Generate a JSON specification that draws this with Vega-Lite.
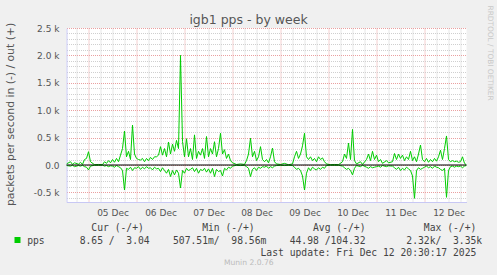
{
  "$schema": "https://vega.github.io/schema/vega-lite/v6.json",
  "width": 400,
  "height": 174,
  "autosize": {"type": "none"},
  "padding": {"left": 66.5, "top": 28, "right": 30.5, "bottom": 73},
  "background": "#f0f0f0",
  "config": {"view": {"stroke": null, "fill": "white"}},
  "title": {"text": "Munin 2.0.76", "orient": "bottom", "anchor": "middle", "frame": "bounds", "font": "DejaVu Sans", "fontSize": 7.6, "fontWeight": "normal", "color": "#bbbbbb", "offset": 2},
  "data": {"values": [
    {"t":"2025-12-04T13:00","out":20,"in":-10},{"t":"2025-12-04T15:00","out":60,"in":-20},{"t":"2025-12-04T16:00","out":10,"in":-5},{"t":"2025-12-04T17:00","out":40,"in":-30},{"t":"2025-12-04T19:00","out":15,"in":-10},{"t":"2025-12-04T20:00","out":50,"in":-20},{"t":"2025-12-04T21:00","out":10,"in":-5},{"t":"2025-12-04T22:00","out":100,"in":-30},{"t":"2025-12-04T23:00","out":120,"in":-40},
    {"t":"2025-12-05T00:00","out":243,"in":-90},{"t":"2025-12-05T01:00","out":60,"in":-20},{"t":"2025-12-05T03:00","out":5,"in":-3},{"t":"2025-12-05T05:00","out":10,"in":-5},{"t":"2025-12-05T07:00","out":5,"in":-3},{"t":"2025-12-05T08:00","out":60,"in":-20},{"t":"2025-12-05T09:00","out":30,"in":-10},{"t":"2025-12-05T10:00","out":80,"in":-30},{"t":"2025-12-05T11:00","out":40,"in":-15},{"t":"2025-12-05T12:00","out":100,"in":-20},{"t":"2025-12-05T13:00","out":50,"in":-40},{"t":"2025-12-05T14:00","out":120,"in":-10},{"t":"2025-12-05T15:00","out":60,"in":-30},{"t":"2025-12-05T16:00","out":180,"in":-50},{"t":"2025-12-05T17:00","out":300,"in":-100},{"t":"2025-12-05T18:00","out":620,"in":-456},{"t":"2025-12-05T19:00","out":150,"in":-60},{"t":"2025-12-05T20:00","out":250,"in":-80},{"t":"2025-12-05T21:00","out":100,"in":-40},{"t":"2025-12-05T22:00","out":730,"in":-100},{"t":"2025-12-05T23:00","out":200,"in":-50},
    {"t":"2025-12-06T00:00","out":120,"in":-60},{"t":"2025-12-06T01:00","out":100,"in":-30},{"t":"2025-12-06T02:00","out":90,"in":-80},{"t":"2025-12-06T03:00","out":120,"in":-40},{"t":"2025-12-06T04:00","out":60,"in":-70},{"t":"2025-12-06T05:00","out":120,"in":-30},{"t":"2025-12-06T06:00","out":80,"in":-60},{"t":"2025-12-06T07:00","out":140,"in":-50},{"t":"2025-12-06T08:00","out":100,"in":-90},{"t":"2025-12-06T09:00","out":150,"in":-40},{"t":"2025-12-06T10:00","out":150,"in":-70},{"t":"2025-12-06T11:00","out":180,"in":-60},{"t":"2025-12-06T12:00","out":335,"in":-120},{"t":"2025-12-06T13:00","out":180,"in":-50},{"t":"2025-12-06T14:00","out":300,"in":-100},{"t":"2025-12-06T15:00","out":150,"in":-150},{"t":"2025-12-06T16:00","out":420,"in":-80},{"t":"2025-12-06T17:00","out":200,"in":-210},{"t":"2025-12-06T18:00","out":380,"in":-100},{"t":"2025-12-06T19:00","out":250,"in":-180},{"t":"2025-12-06T20:00","out":450,"in":-90},{"t":"2025-12-06T21:00","out":300,"in":-150},{"t":"2025-12-06T22:00","out":2000,"in":-420},{"t":"2025-12-06T23:00","out":430,"in":-100},
    {"t":"2025-12-07T00:00","out":150,"in":-150},{"t":"2025-12-07T01:00","out":480,"in":-60},{"t":"2025-12-07T02:00","out":150,"in":-100},{"t":"2025-12-07T03:00","out":300,"in":-80},{"t":"2025-12-07T04:00","out":100,"in":-50},{"t":"2025-12-07T05:00","out":550,"in":-120},{"t":"2025-12-07T06:00","out":120,"in":-60},{"t":"2025-12-07T07:00","out":250,"in":-150},{"t":"2025-12-07T08:00","out":180,"in":-80},{"t":"2025-12-07T09:00","out":300,"in":-100},{"t":"2025-12-07T10:00","out":120,"in":-60},{"t":"2025-12-07T11:00","out":520,"in":-130},{"t":"2025-12-07T12:00","out":150,"in":-70},{"t":"2025-12-07T13:00","out":300,"in":-150},{"t":"2025-12-07T14:00","out":200,"in":-60},{"t":"2025-12-07T15:00","out":425,"in":-210},{"t":"2025-12-07T16:00","out":150,"in":-80},{"t":"2025-12-07T17:00","out":300,"in":-120},{"t":"2025-12-07T18:00","out":580,"in":-100},{"t":"2025-12-07T19:00","out":200,"in":-200},{"t":"2025-12-07T20:00","out":280,"in":-60},{"t":"2025-12-07T21:00","out":120,"in":-90},{"t":"2025-12-07T22:00","out":200,"in":-40},{"t":"2025-12-07T23:00","out":80,"in":-60},
    {"t":"2025-12-08T00:00","out":40,"in":-20},{"t":"2025-12-08T02:00","out":10,"in":-5},{"t":"2025-12-08T04:00","out":20,"in":-10},{"t":"2025-12-08T06:00","out":10,"in":-5},{"t":"2025-12-08T07:00","out":80,"in":-30},{"t":"2025-12-08T08:00","out":200,"in":-60},{"t":"2025-12-08T09:00","out":490,"in":-210},{"t":"2025-12-08T10:00","out":150,"in":-80},{"t":"2025-12-08T11:00","out":250,"in":-50},{"t":"2025-12-08T12:00","out":80,"in":-100},{"t":"2025-12-08T13:00","out":150,"in":-40},{"t":"2025-12-08T14:00","out":335,"in":-60},{"t":"2025-12-08T15:00","out":100,"in":-30},{"t":"2025-12-08T16:00","out":60,"in":-40},{"t":"2025-12-08T17:00","out":100,"in":-20},{"t":"2025-12-08T18:00","out":40,"in":-60},{"t":"2025-12-08T19:00","out":150,"in":-30},{"t":"2025-12-08T20:00","out":310,"in":-50},{"t":"2025-12-08T21:00","out":60,"in":-20},{"t":"2025-12-08T22:00","out":20,"in":-10},
    {"t":"2025-12-09T00:00","out":10,"in":-5},{"t":"2025-12-09T02:00","out":30,"in":-10},{"t":"2025-12-09T04:00","out":5,"in":-3},{"t":"2025-12-09T06:00","out":20,"in":-10},{"t":"2025-12-09T07:00","out":150,"in":-40},{"t":"2025-12-09T08:00","out":250,"in":-80},{"t":"2025-12-09T09:00","out":120,"in":-60},{"t":"2025-12-09T10:00","out":200,"in":-100},{"t":"2025-12-09T11:00","out":350,"in":-200},{"t":"2025-12-09T12:00","out":580,"in":-456},{"t":"2025-12-09T13:00","out":150,"in":-150},{"t":"2025-12-09T14:00","out":100,"in":-50},{"t":"2025-12-09T15:00","out":150,"in":-100},{"t":"2025-12-09T16:00","out":80,"in":-40},{"t":"2025-12-09T17:00","out":120,"in":-70},{"t":"2025-12-09T18:00","out":60,"in":-90},{"t":"2025-12-09T19:00","out":150,"in":-50},{"t":"2025-12-09T20:00","out":100,"in":-80},{"t":"2025-12-09T21:00","out":130,"in":-40},{"t":"2025-12-09T22:00","out":60,"in":-60},{"t":"2025-12-09T23:00","out":20,"in":-10},
    {"t":"2025-12-10T01:00","out":5,"in":-3},{"t":"2025-12-10T03:00","out":10,"in":-5},{"t":"2025-12-10T05:00","out":5,"in":-3},{"t":"2025-12-10T07:00","out":60,"in":-20},{"t":"2025-12-10T08:00","out":200,"in":-50},{"t":"2025-12-10T09:00","out":120,"in":-80},{"t":"2025-12-10T10:00","out":400,"in":-60},{"t":"2025-12-10T11:00","out":100,"in":-100},{"t":"2025-12-10T12:00","out":650,"in":-180},{"t":"2025-12-10T13:00","out":80,"in":-60},{"t":"2025-12-10T14:00","out":20,"in":-10},{"t":"2025-12-10T16:00","out":60,"in":-30},{"t":"2025-12-10T17:00","out":10,"in":-5},{"t":"2025-12-10T19:00","out":100,"in":-40},{"t":"2025-12-10T20:00","out":200,"in":-60},{"t":"2025-12-10T21:00","out":80,"in":-30},{"t":"2025-12-10T22:00","out":250,"in":-50},{"t":"2025-12-10T23:00","out":100,"in":-40},
    {"t":"2025-12-11T00:00","out":180,"in":-30},{"t":"2025-12-11T01:00","out":60,"in":-20},{"t":"2025-12-11T02:00","out":100,"in":-40},{"t":"2025-12-11T03:00","out":30,"in":-10},{"t":"2025-12-11T05:00","out":80,"in":-30},{"t":"2025-12-11T06:00","out":40,"in":-15},{"t":"2025-12-11T08:00","out":60,"in":-20},{"t":"2025-12-11T09:00","out":210,"in":-50},{"t":"2025-12-11T10:00","out":100,"in":-80},{"t":"2025-12-11T11:00","out":200,"in":-40},{"t":"2025-12-11T12:00","out":120,"in":-100},{"t":"2025-12-11T13:00","out":180,"in":-60},{"t":"2025-12-11T14:00","out":80,"in":-90},{"t":"2025-12-11T15:00","out":150,"in":-40},{"t":"2025-12-11T16:00","out":100,"in":-70},{"t":"2025-12-11T17:00","out":250,"in":-100},{"t":"2025-12-11T18:00","out":80,"in":-200},{"t":"2025-12-11T19:00","out":150,"in":-608},{"t":"2025-12-11T20:00","out":60,"in":-100},{"t":"2025-12-11T21:00","out":200,"in":-50},{"t":"2025-12-11T22:00","out":365,"in":-80},{"t":"2025-12-11T23:00","out":100,"in":-60},
    {"t":"2025-12-12T00:00","out":60,"in":-40},{"t":"2025-12-12T01:00","out":120,"in":-20},{"t":"2025-12-12T02:00","out":50,"in":-50},{"t":"2025-12-12T03:00","out":100,"in":-30},{"t":"2025-12-12T04:00","out":60,"in":-60},{"t":"2025-12-12T05:00","out":120,"in":-20},{"t":"2025-12-12T06:00","out":70,"in":-40},{"t":"2025-12-12T07:00","out":150,"in":-50},{"t":"2025-12-12T08:00","out":270,"in":-80},{"t":"2025-12-12T09:00","out":100,"in":-100},{"t":"2025-12-12T10:00","out":300,"in":-60},{"t":"2025-12-12T11:00","out":530,"in":-590},{"t":"2025-12-12T12:00","out":100,"in":-100},{"t":"2025-12-12T13:00","out":60,"in":-30},{"t":"2025-12-12T14:00","out":80,"in":-20},{"t":"2025-12-12T15:00","out":60,"in":-40},{"t":"2025-12-12T16:00","out":70,"in":-20},{"t":"2025-12-12T17:00","out":50,"in":-30},{"t":"2025-12-12T18:00","out":60,"in":-20},{"t":"2025-12-12T19:00","out":150,"in":-50},{"t":"2025-12-12T20:00","out":30,"in":-20},{"t":"2025-12-12T21:00","out":3,"in":-9}
  ]},
  "transform": [{"fold": ["out", "in"], "as": ["s", "v"]}],
  "resolve": {"axis": {"x": "independent", "y": "independent"}},
  "layer": [
    {
      "mark": {"type": "line", "strokeWidth": 1, "clip": true},
      "encoding": {
        "x": {
          "field": "t", "type": "temporal",
          "scale": {"domain": [{"year": 2025, "month": 12, "date": 4, "hours": 13}, {"year": 2025, "month": 12, "date": 12, "hours": 21}]},
          "axis": {
            "orient": "bottom",
            "values": [
              {"year": 2025, "month": 12, "date": 4, "hours": 18},
              {"year": 2025, "month": 12, "date": 5, "hours": 0}, {"year": 2025, "month": 12, "date": 5, "hours": 6}, {"year": 2025, "month": 12, "date": 5, "hours": 12}, {"year": 2025, "month": 12, "date": 5, "hours": 18},
              {"year": 2025, "month": 12, "date": 6, "hours": 0}, {"year": 2025, "month": 12, "date": 6, "hours": 6}, {"year": 2025, "month": 12, "date": 6, "hours": 12}, {"year": 2025, "month": 12, "date": 6, "hours": 18},
              {"year": 2025, "month": 12, "date": 7, "hours": 0}, {"year": 2025, "month": 12, "date": 7, "hours": 6}, {"year": 2025, "month": 12, "date": 7, "hours": 12}, {"year": 2025, "month": 12, "date": 7, "hours": 18},
              {"year": 2025, "month": 12, "date": 8, "hours": 0}, {"year": 2025, "month": 12, "date": 8, "hours": 6}, {"year": 2025, "month": 12, "date": 8, "hours": 12}, {"year": 2025, "month": 12, "date": 8, "hours": 18},
              {"year": 2025, "month": 12, "date": 9, "hours": 0}, {"year": 2025, "month": 12, "date": 9, "hours": 6}, {"year": 2025, "month": 12, "date": 9, "hours": 12}, {"year": 2025, "month": 12, "date": 9, "hours": 18},
              {"year": 2025, "month": 12, "date": 10, "hours": 0}, {"year": 2025, "month": 12, "date": 10, "hours": 6}, {"year": 2025, "month": 12, "date": 10, "hours": 12}, {"year": 2025, "month": 12, "date": 10, "hours": 18},
              {"year": 2025, "month": 12, "date": 11, "hours": 0}, {"year": 2025, "month": 12, "date": 11, "hours": 6}, {"year": 2025, "month": 12, "date": 11, "hours": 12}, {"year": 2025, "month": 12, "date": 11, "hours": 18},
              {"year": 2025, "month": 12, "date": 12, "hours": 0}, {"year": 2025, "month": 12, "date": 12, "hours": 6}, {"year": 2025, "month": 12, "date": 12, "hours": 12}, {"year": 2025, "month": 12, "date": 12, "hours": 18}
            ],
            "grid": true,
            "gridColor": {"condition": {"test": "hours(datum.value) === 0", "value": "#eaa0a0"}, "value": "#cfcfcf"},
            "gridDash": [1, 1],
            "ticks": false,
            "domain": true, "domainColor": "#c8c8f4", "domainWidth": 1,
            "labelExpr": "hours(datum.value) === 12 ? timeFormat(datum.value, '%d %b') : ''",
            "labelFont": "DejaVu Sans", "labelFontSize": 9, "labelColor": "#555555", "labelPadding": 6,
            "labelOverlap": false, "labelFlush": false, "labelBound": false,
            "title": [
              "\u200b\u00a0\u00a0\u00a0\u00a0\u00a0\u00a0\u00a0\u00a0\u00a0\u00a0\u00a0Cur (-/+)\u00a0\u00a0\u00a0\u00a0\u00a0\u00a0\u00a0\u00a0\u00a0\u00a0Min (-/+)\u00a0\u00a0\u00a0\u00a0\u00a0\u00a0\u00a0\u00a0\u00a0\u00a0Avg (-/+)\u00a0\u00a0\u00a0\u00a0\u00a0\u00a0\u00a0\u00a0\u00a0\u00a0Max (-/+)",
              "pps\u00a0\u00a0\u00a0\u00a0\u00a0\u00a08.65 /\u00a0\u00a03.04\u00a0\u00a0\u00a0\u00a0507.51m/\u00a0\u00a098.56m\u00a0\u00a0\u00a0\u00a044.98 /104.32\u00a0\u00a0\u00a0\u00a0\u00a0\u00a0\u00a02.32k/\u00a0\u00a03.35k",
              "\u200b\u00a0\u00a0\u00a0\u00a0\u00a0\u00a0\u00a0\u00a0\u00a0\u00a0\u00a0\u00a0\u00a0\u00a0\u00a0\u00a0\u00a0\u00a0\u00a0\u00a0\u00a0\u00a0\u00a0\u00a0\u00a0\u00a0\u00a0\u00a0\u00a0\u00a0\u00a0\u00a0\u00a0\u00a0\u00a0\u00a0\u00a0\u00a0\u00a0\u00a0Last update: Fri Dec 12 20:30:17 2025"
            ],
            "titleFont": "DejaVu Sans Mono", "titleFontSize": 9.7, "titleFontWeight": "normal", "titleColor": "#444444",
            "titleAlign": "left", "titleAnchor": "start", "titleBaseline": "alphabetic",
            "titleX": -39.8, "titleY": 28.7, "titleLineHeight": 12.4
          }
        },
        "y": {
          "field": "v", "type": "quantitative",
          "scale": {"domain": [-675, 2500], "nice": false, "zero": false},
          "axis": {
            "orient": "left",
            "values": [-600, -500, -400, -300, -200, -100, 0, 100, 200, 300, 400, 500, 600, 700, 800, 900, 1000, 1100, 1200, 1300, 1400, 1500, 1600, 1700, 1800, 1900, 2000, 2100, 2200, 2300, 2400, 2500],
            "grid": true,
            "gridColor": {"condition": {"test": "datum.value % 500 === 0", "value": "#eaa0a0"}, "value": "#cfcfcf"},
            "gridDash": [1, 1],
            "ticks": false,
            "domain": true, "domainColor": "#c8c8f4",
            "labelExpr": "datum.value % 500 === 0 ? (datum.value === 0 ? '0.0' : (datum.value < 0 ? '-' : '') + format(abs(datum.value) / 1000, '.1f') + ' k') : ''",
            "labelFont": "DejaVu Sans", "labelFontSize": 9, "labelColor": "#555555", "labelPadding": 7.5,
            "labelOverlap": false, "labelFlush": false, "labelBound": false,
            "title": "packets per second in (-) / out (+)",
            "titleFont": "DejaVu Sans", "titleFontSize": 10.8, "titleFontWeight": "normal", "titleColor": "#555555",
            "titleAngle": -90, "titleAlign": "center", "titleBaseline": "alphabetic",
            "titleX": -53.5, "titleY": 86
          }
        },
        "detail": {"field": "s"},
        "color": {
          "datum": "pps",
          "scale": {"range": ["#00cc00"]},
          "legend": {
            "orient": "none", "legendX": -52, "legendY": 209, "title": null, "padding": 0,
            "symbolType": "square", "symbolSize": 0.25, "symbolStrokeWidth": 5.5,
            "labelExpr": "''", "labelFontSize": 6, "labelOffset": 0
          }
        }
      }
    },
    {
      "mark": {"type": "rule", "color": "#000000", "strokeWidth": 1.2},
      "encoding": {
        "x": {
          "aggregate": "min", "field": "t", "type": "temporal",
          "axis": {
            "orient": "top", "domain": false, "ticks": false, "labels": false, "grid": false,
            "title": "igb1 pps - by week",
            "titleFont": "DejaVu Sans", "titleFontSize": 12.5, "titleFontWeight": "normal", "titleColor": "#555555",
            "titleAlign": "center", "titleBaseline": "alphabetic", "titleX": 181.5, "titleY": -5
          }
        },
        "x2": {"aggregate": "max", "field": "t"},
        "y": {
          "datum": 0,
          "axis": {
            "orient": "right", "domain": false, "ticks": false, "labels": false, "grid": false,
            "title": "RRDTOOL / TOBI OETIKER",
            "titleFont": "DejaVu Sans", "titleFontSize": 7.4, "titleFontWeight": "normal", "titleColor": "#c8c8c8",
            "titleAngle": 90, "titleAlign": "left", "titleBaseline": "middle", "titleX": 23, "titleY": -23
          }
        }
      }
    }
  ]
}
